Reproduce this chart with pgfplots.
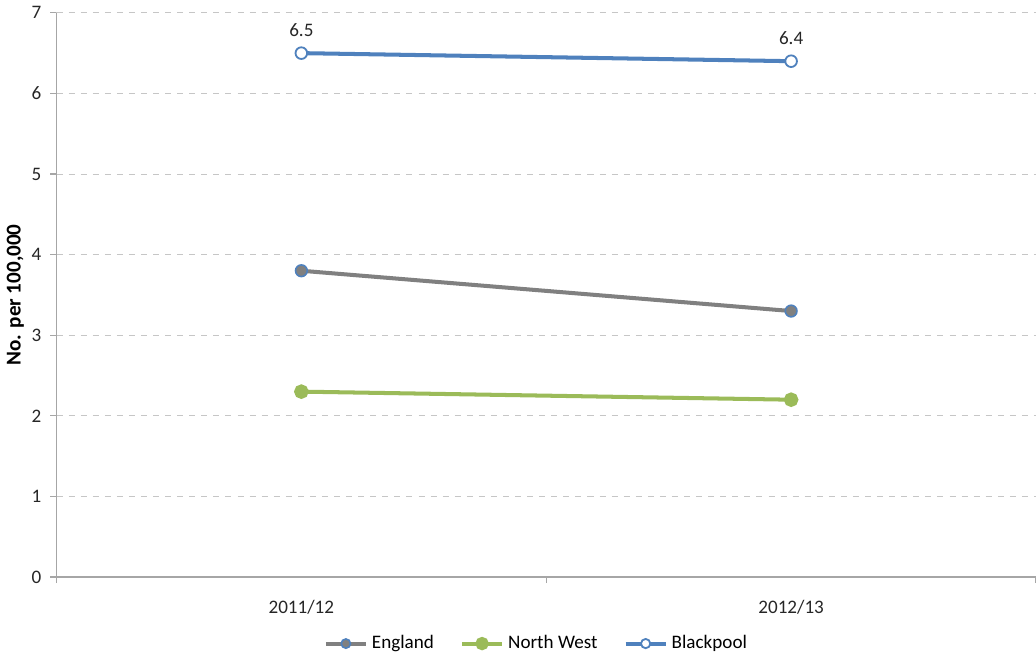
\documentclass[border=0pt]{standalone}
\usepackage{pgfplots}
\pgfplotsset{compat=1.18}
\usepackage{fontspec}
\setmainfont{Carlito}
\definecolor{engl}{RGB}{128,128,128}
\definecolor{nw}{RGB}{155,187,89}
\definecolor{bp}{RGB}{79,129,189}
\definecolor{axgray}{RGB}{166,166,166}
\begin{document}
\begin{tikzpicture}[trim axis right]
\begin{axis}[
  scale only axis,
  width=487pt, height=280.5pt,
  xmin=-0.5, xmax=1.5,
  ymin=0, ymax=7,
  ytick={0,1,...,7},
  xtick={-0.5,0.5,1.5},
  xticklabels={,,},
  extra x ticks={0,1},
  extra x tick labels={2011/12,2012/13},
  extra x tick style={tick style={draw=none}},
  major tick length=3pt,
  tick align=outside,
  axis lines*=left,
  axis line style={axgray, line width=0.6pt},
  tick style={axgray, line width=0.6pt},
  ymajorgrids,
  grid style={dashed, gray!45, line width=0.4pt},
  ticklabel style={font=\fontsize{9.5}{11}\selectfont, text=black!85},
  yticklabel style={xshift=-1pt},
  xticklabel style={yshift=-5pt},
  /pgf/number format/assume math mode=true,
  ylabel={\bfseries No. per 100,000},
  ylabel style={font=\fontsize{10.5}{12}\selectfont, yshift=-3pt},
  legend style={at={(0.491,-0.118)}, anchor=center, draw=none,
    legend columns=3, font=\fontsize{9.5}{11}\selectfont,
    /tikz/every even column/.append style={column sep=11pt}},
  legend image code/.code={
    \draw[#1, mark=none] (0cm,0cm) -- (0.7cm,0cm);
    \draw[#1, only marks, mark size=2.3pt] plot coordinates {(0.35cm,0cm)};
  },
  clip=false,
]
\addplot[engl, line width=2pt, mark=*, mark size=2.9pt,
  mark options={fill=engl, draw=bp, line width=0.8pt}]
  coordinates {(0,3.8) (1,3.3)};
\addlegendentry{England}
\addplot[nw, line width=2pt, mark=*, mark size=2.6pt,
  mark options={fill=nw, draw=nw}]
  coordinates {(0,2.3) (1,2.2)};
\addlegendentry{North West}
\addplot[bp, line width=2pt, mark=*, mark size=2.9pt,
  mark options={fill=white, draw=bp, line width=0.9pt},
  nodes near coords,
  every node near coord/.append style={font=\fontsize{9.5}{11}\selectfont, text=black!85, anchor=south, yshift=4.5pt},
  /pgf/number format/.cd, fixed, fixed zerofill, precision=1]
  coordinates {(0,6.5) (1,6.4)};
\addlegendentry{Blackpool}
\end{axis}
\end{tikzpicture}
\end{document}
